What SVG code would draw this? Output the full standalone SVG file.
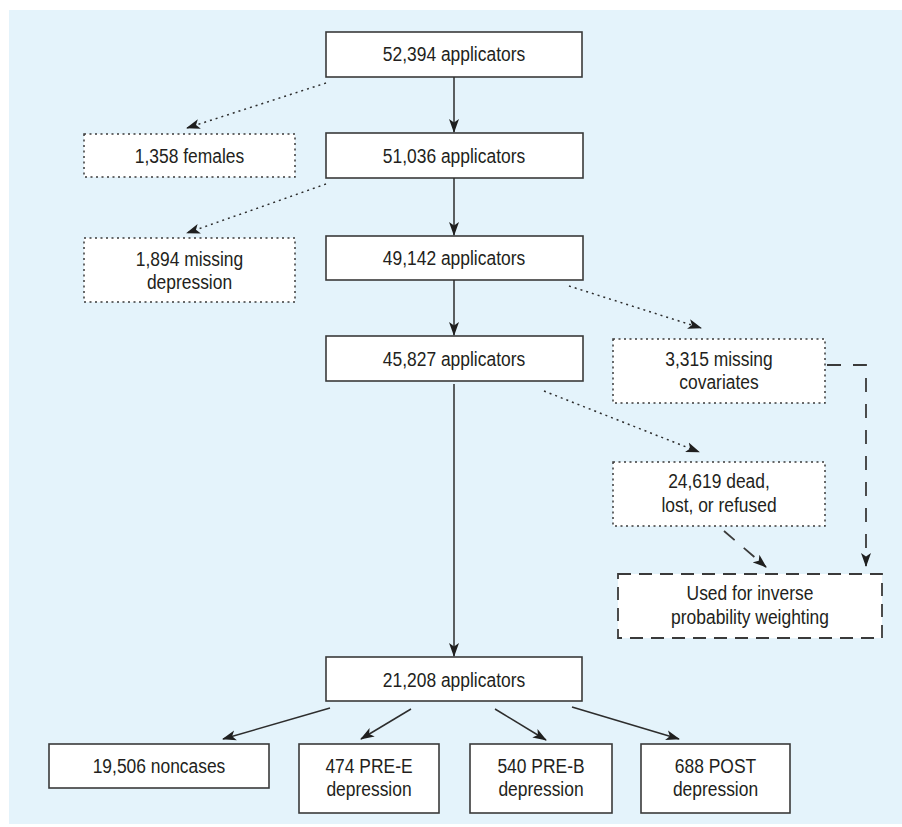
<svg xmlns="http://www.w3.org/2000/svg" width="902" height="827" viewBox="0 0 902 827">
<style>
  .t{font-family:"Liberation Sans","Arial",sans-serif;font-size:21px;fill:#231f20;text-anchor:middle;transform-box:fill-box;transform-origin:center;transform:scaleX(0.83)}
  .solid{fill:#fff;stroke:#3a3a3a;stroke-width:1.6}
  .dot{fill:#fff;stroke:#3a3a3a;stroke-width:1.5;stroke-dasharray:2 3.5}
  .dash{fill:#fff;stroke:#3a3a3a;stroke-width:1.8;stroke-dasharray:13 8}
  .c{fill:none;stroke:#2d2d2d;stroke-width:1.5}
  .cdot{fill:none;stroke:#2d2d2d;stroke-width:1.5;stroke-dasharray:2 4}
  .cdash{fill:none;stroke:#3a3a3a;stroke-width:1.8;stroke-dasharray:14 12}
</style>
<defs>
  <marker id="ah" markerUnits="userSpaceOnUse" markerWidth="14" markerHeight="12" refX="13" refY="5" orient="auto" viewBox="0 0 14 10">
    <path d="M0,0 L14,5 L0,10 L3.5,5 Z" fill="#1f1f1f"/>
  </marker>
</defs>
<rect x="9" y="10" width="893" height="814" fill="#e4f3fb"/>

<g id="n52394"><rect class="solid" x="326" y="32" width="256" height="45"/><text class="t" x="454" y="61">52,394 applicators</text></g>
<g id="n51036"><rect class="solid" x="326" y="133" width="257" height="45"/><text class="t" x="454" y="163">51,036 applicators</text></g>
<g id="n49142"><rect class="solid" x="326" y="236" width="257" height="44"/><text class="t" x="454" y="265">49,142 applicators</text></g>
<g id="n45827"><rect class="solid" x="326" y="336" width="257" height="45"/><text class="t" x="454" y="366">45,827 applicators</text></g>
<g id="n21208"><rect class="solid" x="326" y="657" width="256" height="44"/><text class="t" x="454" y="687">21,208 applicators</text></g>

<g id="females"><rect class="dot" x="84" y="134" width="211" height="43"/><text class="t" x="189.5" y="163">1,358 females</text></g>
<g id="missdep"><rect class="dot" x="84" y="238" width="211" height="64"/><text class="t" x="189.5" y="266">1,894 missing</text><text class="t" x="189.5" y="289">depression</text></g>
<g id="misscov"><rect class="dot" x="613" y="339" width="212" height="64"/><text class="t" x="719" y="366">3,315 missing</text><text class="t" x="719" y="389">covariates</text></g>
<g id="dead"><rect class="dot" x="613" y="462" width="212" height="64"/><text class="t" x="719" y="488">24,619 dead,</text><text class="t" x="719" y="512">lost, or refused</text></g>
<g id="ipw"><rect class="dash" x="618" y="574" width="264" height="64"/><text class="t" x="750" y="600">Used for inverse</text><text class="t" x="750" y="624">probability weighting</text></g>

<g id="noncases"><rect class="solid" x="49" y="744" width="220" height="44"/><text class="t" x="159" y="773">19,506 noncases</text></g>
<g id="pree"><rect class="solid" x="299" y="744" width="140" height="69"/><text class="t" x="369" y="773">474 PRE-E</text><text class="t" x="369" y="796">depression</text></g>
<g id="preb"><rect class="solid" x="470" y="744" width="142" height="69"/><text class="t" x="541" y="773">540 PRE-B</text><text class="t" x="541" y="796">depression</text></g>
<g id="post"><rect class="solid" x="641" y="744" width="149" height="69"/><text class="t" x="715.5" y="773">688 POST</text><text class="t" x="715.5" y="796">depression</text></g>

<g id="connectors">
  <line class="c" x1="454" y1="77" x2="454" y2="132" marker-end="url(#ah)"/>
  <line class="c" x1="454" y1="178" x2="454" y2="235" marker-end="url(#ah)"/>
  <line class="c" x1="454" y1="280" x2="454" y2="335" marker-end="url(#ah)"/>
  <line class="c" x1="454" y1="384" x2="454" y2="656" marker-end="url(#ah)"/>
  <line class="cdot" x1="326" y1="83" x2="187" y2="128" marker-end="url(#ah)"/>
  <line class="cdot" x1="326" y1="184" x2="187" y2="233" marker-end="url(#ah)"/>
  <line class="cdot" x1="569" y1="286" x2="701" y2="328" marker-end="url(#ah)"/>
  <line class="cdot" x1="544" y1="391" x2="699" y2="452" marker-end="url(#ah)"/>
  <line class="cdash" x1="724" y1="531" x2="766" y2="567" marker-end="url(#ah)"/>
  <polyline class="cdash" points="827,365 866,365 866,566" marker-end="url(#ah)"/>
  <line class="c" x1="330" y1="708" x2="223" y2="739" marker-end="url(#ah)"/>
  <line class="c" x1="411" y1="709" x2="361" y2="739" marker-end="url(#ah)"/>
  <line class="c" x1="495" y1="709" x2="546" y2="740" marker-end="url(#ah)"/>
  <line class="c" x1="572" y1="707" x2="679" y2="739" marker-end="url(#ah)"/>
</g>
</svg>
